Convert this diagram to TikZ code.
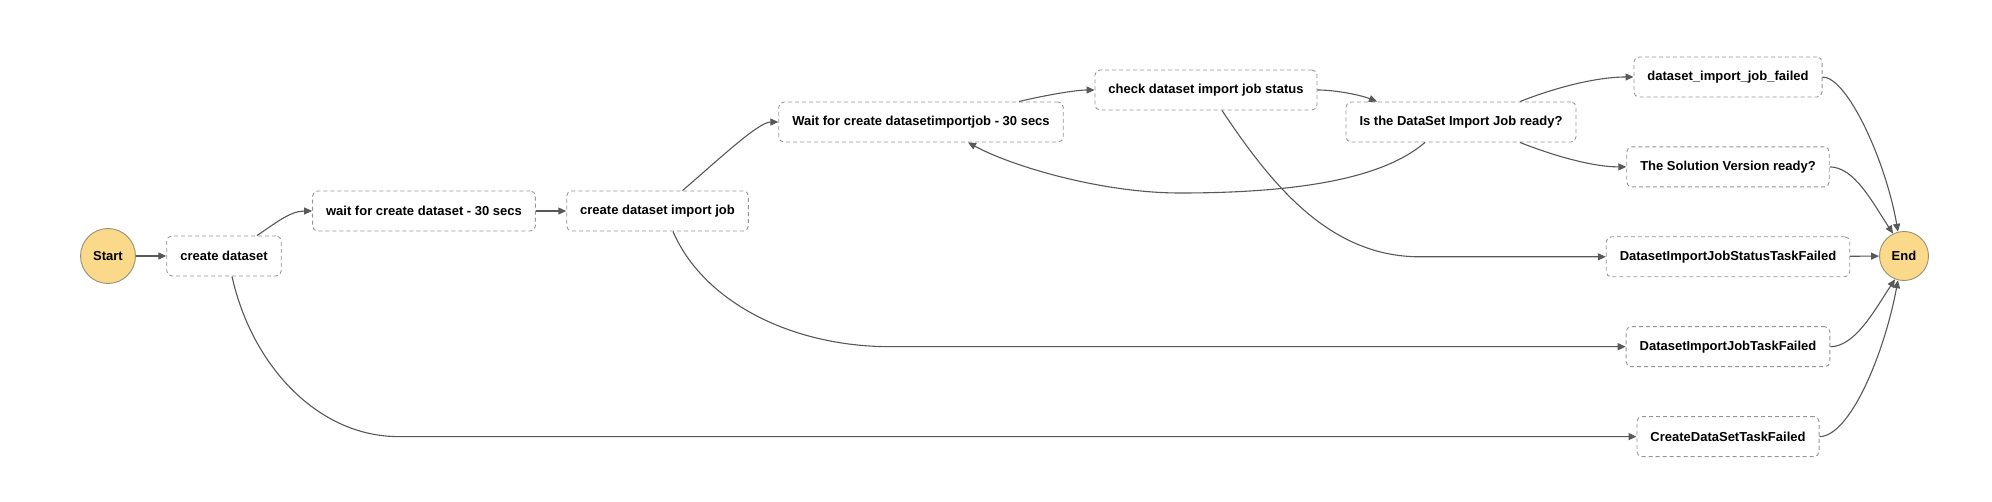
\documentclass[tikz,border=0pt]{standalone}
\usepackage{fontspec}
\setmainfont{Liberation Sans}
\usepackage{tikz}
\usetikzlibrary{positioning, arrows.meta}

\definecolor{termfill}{RGB}{250,217,138}
\definecolor{termline}{RGB}{150,145,120}
\definecolor{boxline}{RGB}{150,150,150}
\definecolor{flowline}{RGB}{88,88,88}

\tikzset{
    state/.style={draw=boxline, dashed, dash pattern=on 4pt off 3pt, line width=0.9pt,
        rounded corners=5pt, fill=white, minimum height=40pt, inner xsep=13.5pt,
        font=\fontsize{13pt}{15pt}\selectfont\bfseries},
    term/.style={draw=termline, circle, fill=termfill, line width=0.9pt, inner sep=0pt,
        font=\fontsize{13pt}{15pt}\selectfont\bfseries},
    flow/.style={draw=flowline, line width=1.1pt, -{Triangle[length=8pt,width=7pt]}}
}

\begin{document}
\begin{tikzpicture}[x=1pt, y=-1pt, node distance=49pt]
    \useasboundingbox (0,0) rectangle (1992,502);

    \node[term, minimum size=55pt] (start) at (108,256) {Start};
    \node[state] (create_ds) at (224,256) {create dataset};
    \node[state] (wait_ds) at (424,211) {wait for create dataset - 30 secs};
    \node[state] (create_job) at (657.5,211) {create dataset import job};
    \node[state] (wait_job) at (921,122) {Wait for create datasetimportjob - 30 secs};
    \node[state] (check_job) at (1206,90) {check dataset import job status};
    \node[state] (job_ready) at (1461,122) {Is the DataSet Import Job ready?};
    \node[state] (job_failed) at (1728,77) {dataset\_import\_job\_failed};
    \node[state, below=of job_failed] (sol_ready) {The Solution Version ready?};
    \node[state, below=of sol_ready] (status_failed) {DatasetImportJobStatusTaskFailed};
    \node[state, below=of status_failed] (job_task_failed) {DatasetImportJobTaskFailed};
    \node[state, below=of job_task_failed] (ds_task_failed) {CreateDataSetTaskFailed};
    \node[term, minimum size=49pt] (end) at (1904,256) {End};

    % dot
    \coordinate (dot_1) at (1180,193);
    \coordinate [left=735pt of job_task_failed.west] (dot_2);
    \coordinate [left=1238pt of ds_task_failed.west] (dot_3);
    \coordinate [left=186pt of status_failed.west] (dot_4);

    \draw[flow] (start) -- (create_ds);
    \draw[flow] ([xshift=33pt]create_ds.north) .. controls +(18,-12) and +(-22,0) .. (wait_ds.west);
    \draw[flow] (wait_ds) -- (create_job);
    \draw[flow] ([xshift=25pt]create_job.north) .. controls +(35,-30) and +(-20,0) .. (wait_job.west);
    \draw[flow] ([xshift=98pt]wait_job.north) .. controls +(20,-5) and +(-20,0) .. (check_job.west);
    \draw[flow] (check_job.east) .. controls +(20,0) and +(-15,-6) .. ([xshift=-84pt]job_ready.north);
    \draw[flow] ([xshift=-36pt]job_ready.south) .. controls +(-35,30) and +(140,0) .. (dot_1)
        .. controls +(-80,0) and +(42,23) .. ([xshift=47pt]wait_job.south);
    \draw[flow] ([xshift=59pt]job_ready.north) .. controls +(30,-12) and +(-40,0) .. (job_failed.west);
    \draw[flow] ([xshift=59pt]job_ready.south) .. controls +(30,12) and +(-35,0) .. (sol_ready.west);
    \draw[flow] ([xshift=16pt]check_job.south) .. controls +(50,75) and +(-90,0) .. (dot_4) -- (status_failed.west);
    \draw[flow] ([xshift=15.5pt]create_job.south) .. controls +(30,70) and +(-100,0) .. (dot_2) -- (job_task_failed.west);
    \draw[flow] ([xshift=8pt]create_ds.south) .. controls +(20,90) and +(-80,0) .. (dot_3) -- (ds_task_failed.west);

    \draw[flow] (job_failed.east) .. controls +(25,0) and +(-12,-70) .. (end.104);
    \draw[flow] (sol_ready.east) .. controls +(25,0) and +(-20,-30) .. (end.116);
    \draw[flow] (status_failed) -- (end);
    \draw[flow] (job_task_failed.east) .. controls +(25,0) and +(-20,30) .. (end.249);
    \draw[flow] (ds_task_failed.east) .. controls +(30,0) and +(-14,75) .. (end.256);
\end{tikzpicture}
\end{document}
